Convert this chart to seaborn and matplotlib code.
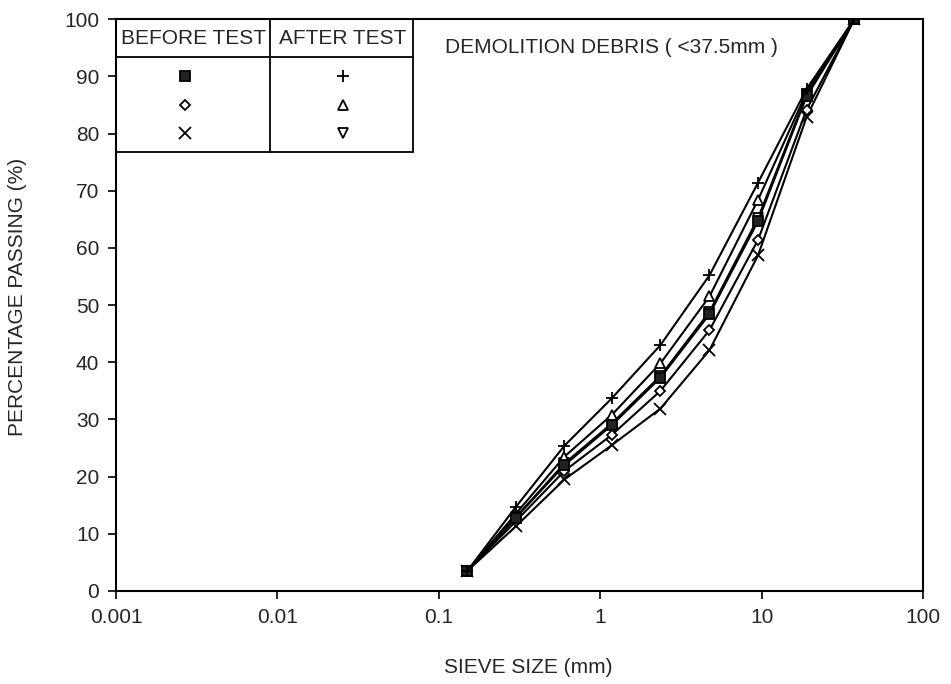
import numpy as np
import pandas as pd
import seaborn as sns
import matplotlib
matplotlib.use("Agg")
import matplotlib.pyplot as plt
from matplotlib.ticker import FixedLocator, FixedFormatter, NullLocator

sieve = [0.15, 0.3, 0.6, 1.18, 2.36, 4.75, 9.5, 19, 37.5]
before_square = [3.5, 12.8, 22.0, 29.0, 37.3, 48.4, 64.7, 86.5, 100]
before_diamond = [3.5, 12.2, 21.0, 27.3, 35.0, 45.6, 61.4, 84.2, 100]
before_cross = [3.5, 11.3, 19.5, 25.5, 31.9, 42.1, 58.7, 82.9, 100]
after_plus = [3.5, 14.7, 25.4, 33.7, 43.0, 55.2, 71.4, 87.8, 100]
after_triup = [3.5, 13.5, 23.5, 30.8, 39.8, 51.5, 68.4, 87.2, 100]
after_tridown = [3.5, 12.9, 22.3, 29.3, 37.6, 48.8, 65.2, 86.8, 100]

x_ticks = [0.001, 0.01, 0.1, 1, 10, 100]
x_tick_labels = ["0.001", "0.01", "0.1", "1", "10", "100"]
y_ticks = list(range(0, 101, 10))

sns.set_style("white")
plt.rcParams['font.family'] = ['Liberation Sans', 'DejaVu Sans']

FS = 15

fig = plt.figure(figsize=(9.51, 6.84), dpi=100)
ax = fig.add_axes([0.122, 0.136, 0.8486, 0.836])

series = [
    (after_tridown, 'v', 'white', 7),
    (before_cross, 'x', 'black', 8),
    (before_diamond, 'D', 'white', 5.5),
    (after_triup, '^', 'white', 7),
    (before_square, 's', '#222222', 7),
    (after_plus, '+', 'black', 9),
]
for vals, m, fc, ms in series:
    df = pd.DataFrame({"size": sieve, "pct": vals})
    sns.lineplot(data=df, x="size", y="pct", ax=ax, color='black', lw=1.5,
                 marker=m, markerfacecolor=fc, markeredgecolor='black',
                 markersize=ms, markeredgewidth=1.3, legend=False)

ax.set_xscale('log')
ax.set_xlim(0.001, 100)
ax.set_ylim(0, 100)
ax.xaxis.set_major_locator(FixedLocator(x_ticks))
ax.xaxis.set_major_formatter(FixedFormatter(x_tick_labels))
ax.xaxis.set_minor_locator(NullLocator())
ax.set_yticks(y_ticks)
ax.tick_params(axis='both', direction='out', length=6, width=1.2, labelsize=FS,
               bottom=True, left=True, color='black', pad=6)
for sp in ax.spines.values():
    sp.set_color('black')
    sp.set_linewidth(1.5)
ax.set_xlabel("SIEVE SIZE (mm)", fontsize=FS)
ax.xaxis.set_label_coords(0.5105, -0.117)
ax.set_ylabel("PERCENTAGE PASSING (%)", fontsize=FS)
ax.yaxis.set_label_coords(-0.110, 0.514)

# Table-style legend
T = ax.transAxes
x0, x1, xm = 0.0, 0.368, 0.1908
y0, y1, yh = 0.7675, 1.0, 0.9336
kw = dict(transform=T, color='black', lw=1.3, clip_on=False)
ax.plot([x0, x1], [y0, y0], **kw)
ax.plot([x1, x1], [y0, y1], **kw)
ax.plot([x0, x1], [yh, yh], **kw)
ax.plot([xm, xm], [y0, y1], **kw)
ax.plot([x0, x0], [y0, y1], **kw)
ax.text(0.0954, 0.966, "BEFORE TEST", transform=T, ha='center', va='center', fontsize=FS)
ax.text(0.281, 0.966, "AFTER TEST", transform=T, ha='center', va='center', fontsize=FS)
leg_rows = [0.900, 0.850, 0.801]
left_marks = [('s', '#222222', 7), ('D', 'white', 5), ('x', 'black', 8)]
right_marks = [('+', 'black', 9), ('^', 'white', 7), ('v', 'white', 7)]
for yy, (m, fc, ms) in zip(leg_rows, left_marks):
    ax.plot([0.0855], [yy], marker=m, mfc=fc, mec='black', ms=ms, mew=1.3,
            transform=T, clip_on=False, ls='none')
for yy, (m, fc, ms) in zip(leg_rows, right_marks):
    ax.plot([0.281], [yy], marker=m, mfc=fc, mec='black', ms=ms, mew=1.3,
            transform=T, clip_on=False, ls='none')

ax.text(0.4077, 0.951, "DEMOLITION DEBRIS ( <37.5mm )", transform=T,
        ha='left', va='center', fontsize=FS)

fig.savefig("out.png", dpi=100)
